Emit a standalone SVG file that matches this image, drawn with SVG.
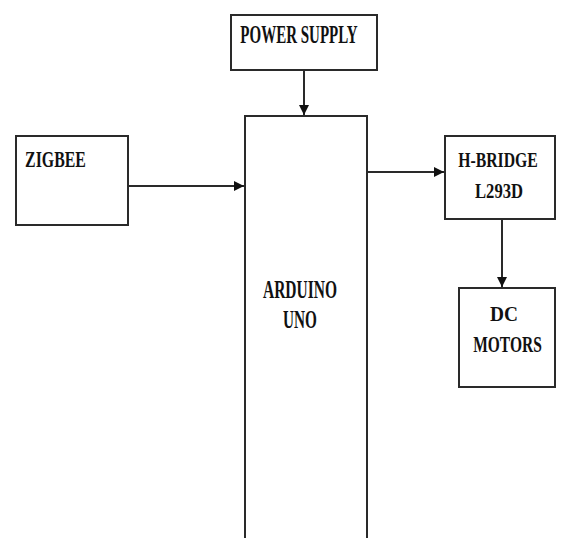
<svg xmlns="http://www.w3.org/2000/svg" width="563" height="538" viewBox="0 0 563 538">
<defs>
<style>
.box{fill:#fff;stroke:#2a2a2a;stroke-width:2}
.lbl{font-family:"Liberation Serif","Times New Roman",serif;font-weight:bold;fill:#111;text-anchor:middle}
.con{stroke:#2a2a2a;stroke-width:2;fill:none}
</style>
<marker id="ah" viewBox="0 0 10 10" refX="10" refY="5" markerWidth="5" markerHeight="5" orient="auto" markerUnits="strokeWidth">
<path d="M0,0 L10,5 L0,10 z" fill="#111"/>
</marker>
</defs>
<rect width="563" height="538" fill="#fff"/>
<g id="power-supply">
<rect class="box" x="231" y="15" width="146" height="55"/>
<text class="lbl" font-size="25" transform="translate(299,43) scale(0.6,1)">POWER SUPPLY</text>
</g>
<g id="zigbee">
<rect class="box" x="16" y="136" width="112" height="89"/>
<text class="lbl" font-size="23" transform="translate(55.5,167) scale(0.69,1)">ZIGBEE</text>
</g>
<g id="arduino-uno">
<rect class="box" x="245" y="116" width="122" height="440"/>
<text class="lbl" font-size="25" transform="translate(300,298) scale(0.62,1)">ARDUINO</text>
<text class="lbl" font-size="25" transform="translate(300,328) scale(0.61,1)">UNO</text>
</g>
<g id="h-bridge">
<rect class="box" x="445" y="136" width="110" height="83"/>
<text class="lbl" font-size="21" transform="translate(498,167) scale(0.75,1)">H-BRIDGE</text>
<text class="lbl" font-size="22" transform="translate(499,198) scale(0.755,1)">L293D</text>
</g>
<g id="dc-motors">
<rect class="box" x="459" y="288" width="96" height="99"/>
<text class="lbl" font-size="22" transform="translate(504,321) scale(0.88,1)">DC</text>
<text class="lbl" font-size="23" transform="translate(507.5,352) scale(0.675,1)">MOTORS</text>
</g>
<g id="connectors">
<line class="con" x1="304" y1="70" x2="304" y2="115" marker-end="url(#ah)"/>
<line class="con" x1="128" y1="186" x2="244" y2="186" marker-end="url(#ah)"/>
<line class="con" x1="367" y1="172" x2="444" y2="172" marker-end="url(#ah)"/>
<line class="con" x1="502" y1="219" x2="502" y2="287" marker-end="url(#ah)"/>
</g>
</svg>
